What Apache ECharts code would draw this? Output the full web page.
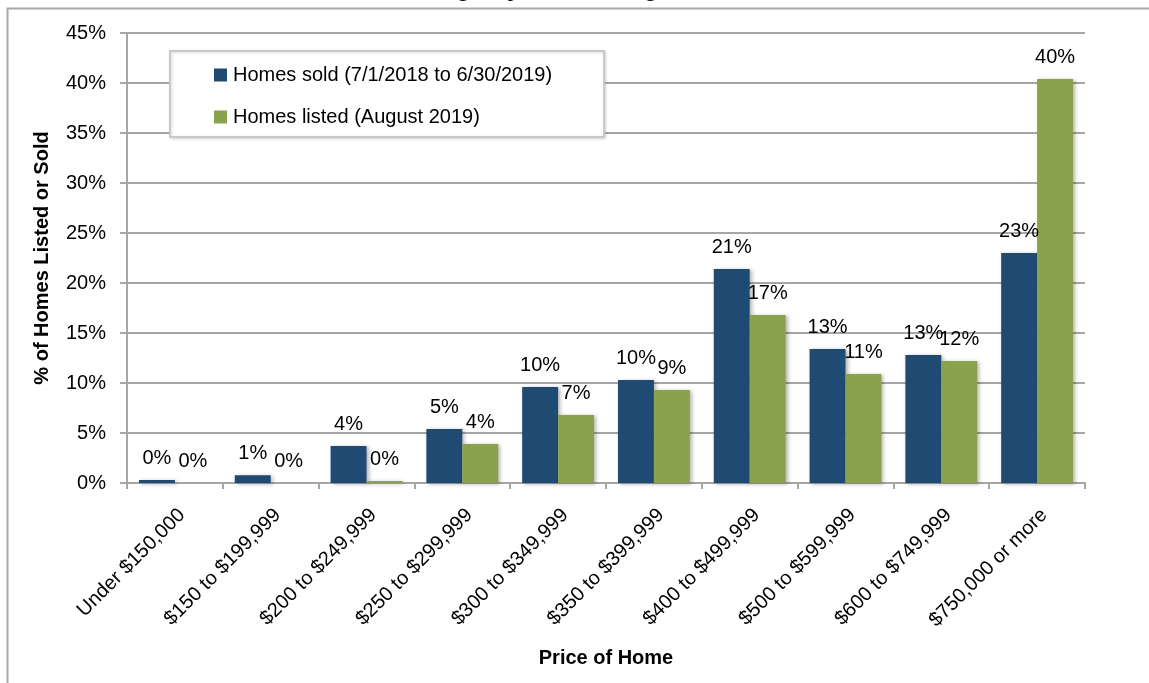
<!DOCTYPE html>
<html>
<head>
<meta charset="utf-8">
<style>
html,body{margin:0;padding:0;background:#fff;}
#chart{width:1149px;height:683px;}
</style>
<script src="https://cdn.jsdelivr.net/npm/echarts@6/dist/echarts.min.js"></script>
</head>
<body>
<div id="chart"></div>
<script>
const categories = ["Under $150,000","$150 to $199,999","$200 to $249,999","$250 to $299,999","$300 to $349,999","$350 to $399,999","$400 to $499,999","$500 to $599,999","$600 to $749,999","$750,000 or more"];
const homesSold = [0.3, 0.77, 3.7, 5.4, 9.6, 10.3, 21.4, 13.4, 12.8, 23.0];
const homesListed = [0.0, 0.0, 0.2, 3.9, 6.8, 9.3, 16.8, 10.9, 12.2, 40.4];
const seriesNames = ["Homes sold (7/1/2018 to 6/30/2019)", "Homes listed (August 2019)"];
const yTicks = [0, 5, 10, 15, 20, 25, 30, 35, 40, 45];

const FONT = "'Liberation Sans', Arial, sans-serif";
const FS = 20;
const chart = echarts.init(document.getElementById('chart'));
const labelCfg = {
  show: true, position: 'top', distance: 12,
  fontFamily: FONT, fontSize: FS, color: '#000',
  formatter: p => Math.round(p.value) + '%'
};
const shadow = {shadowColor: 'rgba(0,0,0,0.3)', shadowBlur: 4, shadowOffsetX: 2, shadowOffsetY: 1};
chart.setOption({
  animation: false,
  backgroundColor: '#fff',
  title: {
    text: 'Listings by Price Range', left: 389, top: -23, padding: 0,
    textStyle: {fontFamily: FONT, fontSize: 25, fontWeight: 'bold', color: '#000'}
  },
  graphic: [{
    type: 'rect', left: 5, top: 6, z: -1,
    shape: {x: 0, y: 0, width: 1200, height: 1000},
    style: {fill: 'none', stroke: '#a8a8a8', lineWidth: 2}
  }],
  legend: {
    orient: 'vertical', left: 170, top: 51,
    padding: [14, 52, 10, 44], itemGap: 22,
    itemWidth: 13, itemHeight: 13, icon: 'rect',
    backgroundColor: '#fff', borderColor: '#c8c8c8', borderWidth: 2,
    shadowColor: 'rgba(0,0,0,0.15)', shadowBlur: 3, shadowOffsetX: 1, shadowOffsetY: 1,
    textStyle: {fontFamily: FONT, fontSize: FS, color: '#000', padding: [0,0,0,1]},
    data: seriesNames
  },
  grid: {left: 127, right: 64, top: 33, bottom: 200, outerBoundsMode: 'none', containLabel: false},
  xAxis: {
    type: 'category', data: categories,
    name: 'Price of Home', nameLocation: 'middle', nameGap: 165,
    nameTextStyle: {fontFamily: FONT, fontSize: FS, fontWeight: 'bold', color: '#000'},
    axisLine: {lineStyle: {color: '#a6a6a6', width: 2}},
    axisTick: {show: true, length: 6, lineStyle: {color: '#a6a6a6', width: 2}},
    axisLabel: {
      rotate: 45, interval: 0, margin: 22, verticalAlign: 'top',
      fontFamily: FONT, fontSize: FS, color: '#000'
    }
  },
  yAxis: {
    type: 'value', min: 0, max: 45, interval: 5,
    name: '% of Homes Listed or Sold', nameLocation: 'middle', nameGap: 75, nameRotate: 90,
    nameTextStyle: {fontFamily: FONT, fontSize: FS, fontWeight: 'bold', color: '#000'},
    axisLine: {show: true, lineStyle: {color: '#a6a6a6', width: 2}},
    axisTick: {show: true, length: 7, lineStyle: {color: '#a6a6a6', width: 2}},
    axisLabel: {
      margin: 21, fontFamily: FONT, fontSize: FS, color: '#000',
      formatter: v => yTicks.includes(v) ? v + '%' : ''
    },
    splitLine: {lineStyle: {color: '#a6a6a6', width: 2}}
  },
  series: [
    {
      name: seriesNames[0], type: 'bar', data: homesSold,
      barGap: '0%', barCategoryGap: '25%',
      itemStyle: Object.assign({color: '#1f4a72'}, shadow),
      label: labelCfg
    },
    {
      name: seriesNames[1], type: 'bar', data: homesListed,
      itemStyle: Object.assign({color: '#8aa24b'}, shadow),
      label: labelCfg
    }
  ]
});
</script>
</body>
</html>
